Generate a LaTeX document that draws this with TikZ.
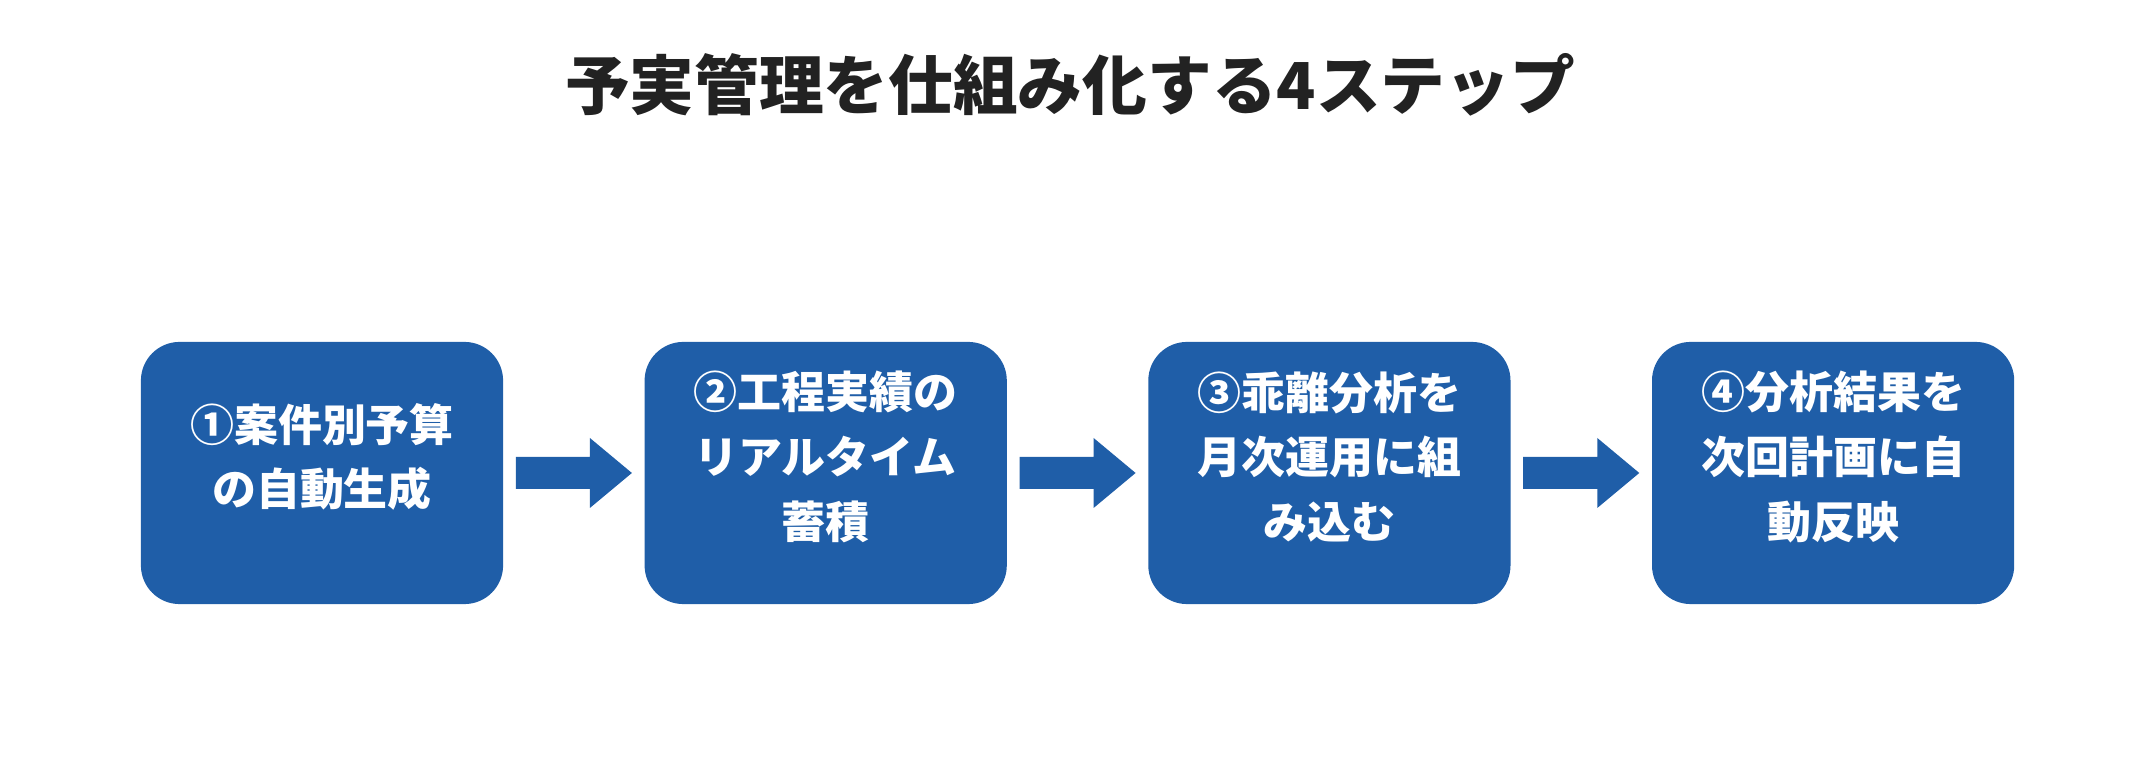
\documentclass[tikz,border=0pt]{standalone}
\usepackage{fontspec}
\setmainfont{Noto Sans CJK JP}
\usetikzlibrary{positioning,calc}
\definecolor{stepblue}{HTML}{1F5EA8}
\definecolor{titlegray}{HTML}{222222}
\tikzstyle{stepbox} = [rectangle, fill=stepblue, rounded corners=11pt, minimum width=3.62cm, minimum height=2.62cm, inner sep=0pt]
\tikzstyle{steptext} = [text=white, font=\fontsize{12.5}{18.4}\selectfont\bfseries, align=center]
\tikzstyle{flow} = [fill=stepblue, draw=none]

\begin{document}
\begin{tikzpicture}[x=0.01cm, y=-0.01cm]
	\useasboundingbox (0,0) rectangle (2140,780);
	\node[font=\fontsize{18.4}{22}\selectfont\bfseries, text=titlegray] (title) at (1070,85) {予実管理を仕組み化する4ステップ};
	
	\node[stepbox] (s1) at (322,473) {};
	\node[stepbox, right=1.40cm of s1] (s2) {};
	\node[stepbox, right=1.40cm of s2] (s3) {};
	\node[stepbox, right=1.40cm of s3] (s4) {};
	
	\node[steptext] (t1) at ([yshift=0.16cm]s1.center) {①案件別予算\\の自動生成};
	\node[steptext] (t2) at ([yshift=0.16cm]s2.center) {②工程実績の\\リアルタイム\\蓄積};
	\node[steptext] (t3) at ([yshift=0.16cm]s3.center) {③乖離分析を\\月次運用に組\\み込む};
	\node[steptext] (t4) at ([yshift=0.16cm]s4.center) {④分析結果を\\次回計画に自\\動反映};
	
	\foreach \a/\b in {s1/s2, s2/s3, s3/s4}{
		\coordinate (p) at ([xshift=0.12cm]\a.east);
		\coordinate (q) at ([xshift=-0.12cm]\b.west);
		\path[flow] ($(p)+(0,-16)$) -- ($(q)+(-42,-16)$) -- ($(q)+(-42,-35)$) -- (q) -- ($(q)+(-42,35)$) -- ($(q)+(-42,16)$) -- ($(p)+(0,16)$) -- cycle;
	}
\end{tikzpicture}
\end{document}
